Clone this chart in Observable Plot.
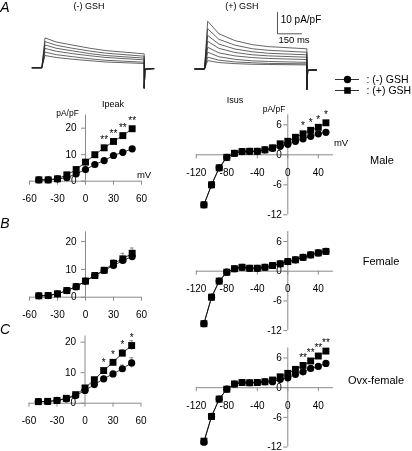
<!DOCTYPE html>
<html><head><meta charset="utf-8">
<script src="https://cdn.jsdelivr.net/npm/d3@7"></script>
<script src="https://cdn.jsdelivr.net/npm/@observablehq/plot@0.6"></script>
<style>
body{margin:0;background:#fff;}
#fig{position:relative;width:412px;height:451px;overflow:hidden;font-family:"Liberation Sans",Arial,Helvetica,sans-serif;background:#fff;}
#fig svg{position:absolute;left:0;top:0;background:transparent !important;overflow:visible;will-change:transform;}
#fig svg, #fig svg text{font-family:"Liberation Sans",Arial,Helvetica,sans-serif !important;}
.lbl{position:absolute;white-space:nowrap;color:#000;line-height:1;transform:translate(-50%,-50%);}
</style></head><body><div id="fig"></div>
<script>
// ---------------- data ----------------
const vPeak = [-50,-40,-30,-20,-10,0,10,20,30,40,50];
const vSus = [-110,-100,-90,-80,-70,-60,-50,-40,-30,-20,-10,0,10,20,30,40,50];
const peakXTicks = [-60,-30,0,30,60];
const peakYTicks = [0,10,20];
const susXTicks = [-120,-80,-40,0,40];
const susYTicks = [-12,-6,0,6];
const sigV = [20,30,40,50];

// Male
const malePeakMinus = [0.5,0.5,0.9,1.3,2.8,4.4,6.3,7.8,9.7,10.9,12.2];
const malePeakPlus  = [0.5,0.5,0.9,2.4,4.4,7.2,10.0,12.6,15.0,17.2,19.8];
const maleSusMinus  = [-10.0,-6.0,-2.6,-0.5,0.3,0.65,0.7,0.7,1.0,1.3,1.7,2.1,2.7,3.2,3.7,4.2,4.5];
const maleSusPlus   = [-10.0,-6.0,-2.6,-0.5,0.3,0.65,0.7,0.7,1.0,1.4,2.2,2.7,3.5,4.2,4.9,5.5,6.4];
const maleSigPeak = "**", maleSigSus = "*";

// Female
const femalePeakMinus = [0.5,0.6,1.2,2.4,3.8,5.8,7.8,9.6,11.4,13.2,14.6];
const femalePeakPlus  = [0.5,0.6,1.2,2.4,3.8,5.8,7.8,9.7,12.2,13.8,15.8];
const femalePeakMinusErr = [0,0,0,0,0,0,0,0,0.8,1.0,1.3];
const femalePeakPlusErr  = [0,0,0,0,0,0,0,0,1.2,2.0,1.9];
const femaleSusMinus = [-10.6,-5.25,-2.0,-0.2,0.5,0.8,0.6,0.6,0.8,1.15,1.5,1.95,2.3,2.8,3.3,3.7,4.0];
const femaleSusPlus  = [-10.6,-5.25,-2.0,-0.2,0.5,0.8,0.6,0.6,0.8,1.15,1.5,1.95,2.3,2.8,3.3,3.7,4.0];

// Ovx-female
const ovxPeakMinus = [0.55,0.55,0.9,1.4,2.5,4.2,6.1,8.0,9.6,11.3,13.2];
const ovxPeakPlus  = [0.5,0.6,0.9,1.6,2.8,5.0,7.7,10.7,13.4,16.4,18.9];
const ovxPeakMinusErr = [0,0,0,0,0,0,0,0,0,1.2,1.7];
const ovxPeakPlusErr  = [0,0,0,0,0,0,0,0,0,1.2,1.6];
const ovxSusMinus = [-11.0,-5.8,-2.3,-0.3,0.75,1.05,1.0,1.05,1.2,1.2,1.7,2.0,2.7,3.2,3.9,4.3,4.9];
const ovxSusPlus  = [-10.8,-5.8,-2.3,-0.3,0.75,1.05,1.0,1.05,1.2,1.55,2.2,2.9,3.7,4.5,5.4,6.4,7.4];
const ovxSigPeak = "*", ovxSigSus = "**";

// Current traces (pA/pF) at times after the step (ms)
const traceT = [20, 90, 190, 300, 400, 640];
const preT = [-60, 0], preI = [0, 0];
const tailT = [640, 645, 700], tailI = [-9.5, -0.6, -0.4];
const minusTraces = [
  [13.9,12.0,10.6,9.1,8.0,6.5],
  [12.2,10.5,9.1,7.8,6.8,5.4],
  [10.6,9.1,7.9,6.6,5.7,4.5],
  [9.0,7.7,6.6,5.6,4.8,3.7],
  [7.3,6.1,5.2,4.2,3.5,2.6],
  [5.7,4.8,4.0,3.3,2.7,2.0]
];
const plusTraces = [
  [22.2,16.4,13.2,11.3,10.4,9.4],
  [18.7,13.8,11.1,9.4,8.7,7.8],
  [15.6,11.6,9.3,8.0,7.3,6.6],
  [12.9,9.6,7.7,6.6,6.1,5.5],
  [10.1,7.5,6.1,5.3,4.9,4.4],
  [7.8,5.7,4.5,3.8,3.5,3.1],
  [5.5,4.1,3.3,2.9,2.6,2.4],
  [3.9,3.0,2.5,2.2,2.1,1.9]
];
const scaleMs = 150, scaleI = 10;
const groups = ["(-) GSH", "(+) GSH"];

// ---------------- layout / drawing ----------------
const W = 412, H = 451;
const svgStyle = "background:transparent;position:absolute;left:0;top:0;overflow:visible;font-size:10px;";
const axisGray = "#8a8a8a";
const fig = document.getElementById("fig");

function ivPanel(o) {
  const isPeak = o.kind === "peak";
  const xDomain = isPeak ? [-60, 60] : [-120, 60];
  const yDomain = isPeak ? [0, 20] : [-12, 8];
  const rowsM = o.v.map((v, j) => ({v, i: o.minus[j], e: o.minusErr ? o.minusErr[j] : 0}));
  const rowsP = o.v.map((v, j) => ({v, i: o.plus[j], e: o.plusErr ? o.plusErr[j] : 0}));
  const errs = rowsM.concat(rowsP).filter(d => d.e > 0);
  const sigRows = o.sig ? sigV.map(v => rowsP.find(d => d.v === v)) : [];
  return Plot.plot({
    width: W, height: H,
    marginLeft: o.x0, marginRight: 0, marginTop: 0, marginBottom: H - o.y0,
    style: svgStyle,
    x: {domain: xDomain, range: xDomain.map(d => o.x0 + d * o.kx), label: null},
    y: {domain: yDomain, range: yDomain.map(d => o.y0 - d * o.ky), label: null},
    marks: [
      Plot.ruleY([0], {x1: xDomain[0], x2: xDomain[1], stroke: axisGray}),
      Plot.ruleX([0], {y1: isPeak ? 0 : -12, y2: o.yTop, stroke: axisGray}),
      Plot.axisX({ticks: isPeak ? peakXTicks : susXTicks, tickSize: 4, tickPadding: 10, stroke: axisGray, color: "black", tickFormat: d => String(d), label: null, fontSize: 10}),
      Plot.axisY({ticks: isPeak ? peakYTicks : susYTicks, tickSize: 4, tickPadding: isPeak ? 5 : 2, stroke: axisGray, color: "black", tickFormat: d => String(d), label: null, fontSize: 10}),
      Plot.ruleX(errs, {x: "v", y1: d => d.i - d.e, y2: d => d.i + d.e, stroke: "#777", strokeWidth: 0.8}),
      Plot.ruleY(errs, {y: d => d.i + d.e, x1: d => d.v - 2, x2: d => d.v + 2, stroke: "#777", strokeWidth: 0.8}),
      Plot.line(rowsM, {x: "v", y: "i", stroke: "black", strokeWidth: 0.8}),
      Plot.line(rowsP, {x: "v", y: "i", stroke: "black", strokeWidth: 0.8}),
      Plot.dot(rowsP, {x: "v", y: "i", symbol: "square", r: 3.9, fill: "black", stroke: "none"}),
      Plot.dot(rowsM, {x: "v", y: "i", symbol: "circle", r: 3.6, fill: "black", stroke: "none"}),
      Plot.text(sigRows, {x: "v", y: "i", text: () => o.sig, dy: -8, fontSize: 10, fill: "black"})
    ]
  });
}

function tracePanel(o) {
  const pts = [];
  o.traces.forEach((tr, k) => {
    preT.forEach((t, j) => pts.push({k, t, i: preI[j]}));
    traceT.forEach((t, j) => pts.push({k, t, i: tr[j]}));
    tailT.forEach((t, j) => pts.push({k, t, i: tailI[j]}));
  });
  const xd = [-60, 700], yd = [-12, 24];
  return Plot.plot({
    width: W, height: H, margin: 0, style: svgStyle,
    x: {domain: xd, range: xd.map(d => o.x0 + d * o.kx), axis: null},
    y: {domain: yd, range: yd.map(d => o.y0 - d * o.ky), axis: null},
    marks: [Plot.line(pts, {x: "t", y: "i", z: "k", stroke: "#222", strokeWidth: 0.7})]
  });
}

const kxT = 0.16, kyT = 2.15;
fig.appendChild(tracePanel({x0: 41.3, y0: 67.3, kx: kxT, ky: kyT, traces: minusTraces}));
fig.appendChild(tracePanel({x0: 204, y0: 68.5, kx: kxT, ky: kyT, traces: plusTraces}));

// scale bar
fig.appendChild(Plot.plot({
  width: W, height: H, margin: 0, style: svgStyle,
  x: {domain: [0, scaleMs], range: [277, 277 + scaleMs * kxT], axis: null},
  y: {domain: [0, scaleI], range: [33.3, 33.3 - scaleI * kyT], axis: null},
  marks: [Plot.line([{t: 0, i: scaleI}, {t: 0, i: 0}, {t: scaleMs, i: 0}], {x: "t", y: "i", stroke: "#555", strokeWidth: 1})]
}));

// legend
fig.appendChild(Plot.plot({
  width: W, height: H, margin: 0, style: svgStyle,
  x: {domain: [0, 1], range: [335, 359], axis: null},
  y: {type: "point", domain: groups, range: [79, 90], padding: 0, axis: null},
  symbol: {domain: groups, range: ["circle", "square"]},
  marks: [
    Plot.ruleY(groups, {y: d => d, x1: 0, x2: 1, stroke: "#333", strokeWidth: 1}),
    Plot.dot(groups, {x: 0.5, y: d => d, symbol: d => d, fill: "black", stroke: "none", r: 3.7}),
    Plot.text(groups, {x: 1, y: d => d, text: d => ": " + d, dx: 7, textAnchor: "start", fontSize: 10.5, fill: "black"})
  ]
}));

const panels = [
  {kind: "peak", x0: 85, y0: 180.7, kx: 0.9333, ky: 2.65, yTop: 25, v: vPeak, minus: malePeakMinus, plus: malePeakPlus, sig: maleSigPeak},
  {kind: "sus", x0: 287.3, y0: 154.3, kx: 0.7625, ky: 5.0, yTop: 8, v: vSus, minus: maleSusMinus, plus: maleSusPlus, sig: maleSigSus},
  {kind: "peak", x0: 85, y0: 296.7, kx: 0.9333, ky: 2.78, yTop: 23.5, v: vPeak, minus: femalePeakMinus, plus: femalePeakPlus, minusErr: femalePeakMinusErr, plusErr: femalePeakPlusErr},
  {kind: "sus", x0: 287.3, y0: 270.7, kx: 0.7625, ky: 4.95, yTop: 8, v: vSus, minus: femaleSusMinus, plus: femaleSusPlus},
  {kind: "peak", x0: 84.5, y0: 402.7, kx: 0.9333, ky: 3.05, yTop: 22, v: vPeak, minus: ovxPeakMinus, plus: ovxPeakPlus, minusErr: ovxPeakMinusErr, plusErr: ovxPeakPlusErr, sig: ovxSigPeak},
  {kind: "sus", x0: 287.3, y0: 387.2, kx: 0.7625, ky: 4.95, yTop: 8, v: vSus, minus: ovxSusMinus, plus: ovxSusPlus, sig: ovxSigSus}
];
panels.forEach(p => fig.appendChild(ivPanel(p)));

// text labels
function label(text, cx, cy, size, extra) {
  const d = document.createElement("div");
  d.className = "lbl";
  d.textContent = text;
  d.style.left = cx + "px";
  d.style.top = cy + "px";
  d.style.fontSize = size + "px";
  if (extra) Object.assign(d.style, extra);
  fig.appendChild(d);
}
label("A", 5, 7, 14, {fontStyle: "italic"});
label("B", 5, 223, 14, {fontStyle: "italic"});
label("C", 5, 329, 14, {fontStyle: "italic"});
label("(-) GSH", 89, 6, 9);
label("(+) GSH", 242, 6, 9);
label(`${scaleI} pA/pF`, 301, 20, 10);
label(`${scaleMs} ms`, 294, 40, 9.5);
label("Ipeak", 113, 104, 9);
label("pA/pF", 67.5, 112.5, 8.5);
label("mV", 144, 175, 9.5);
label("Isus", 235, 100, 9);
label("pA/pF", 274, 108.5, 8.5);
label("mV", 341, 143, 9.5);
label("Male", 382, 160, 11);
label("Female", 381, 261, 11);
label("Ovx-female", 376, 379.5, 11);
</script></body></html>
